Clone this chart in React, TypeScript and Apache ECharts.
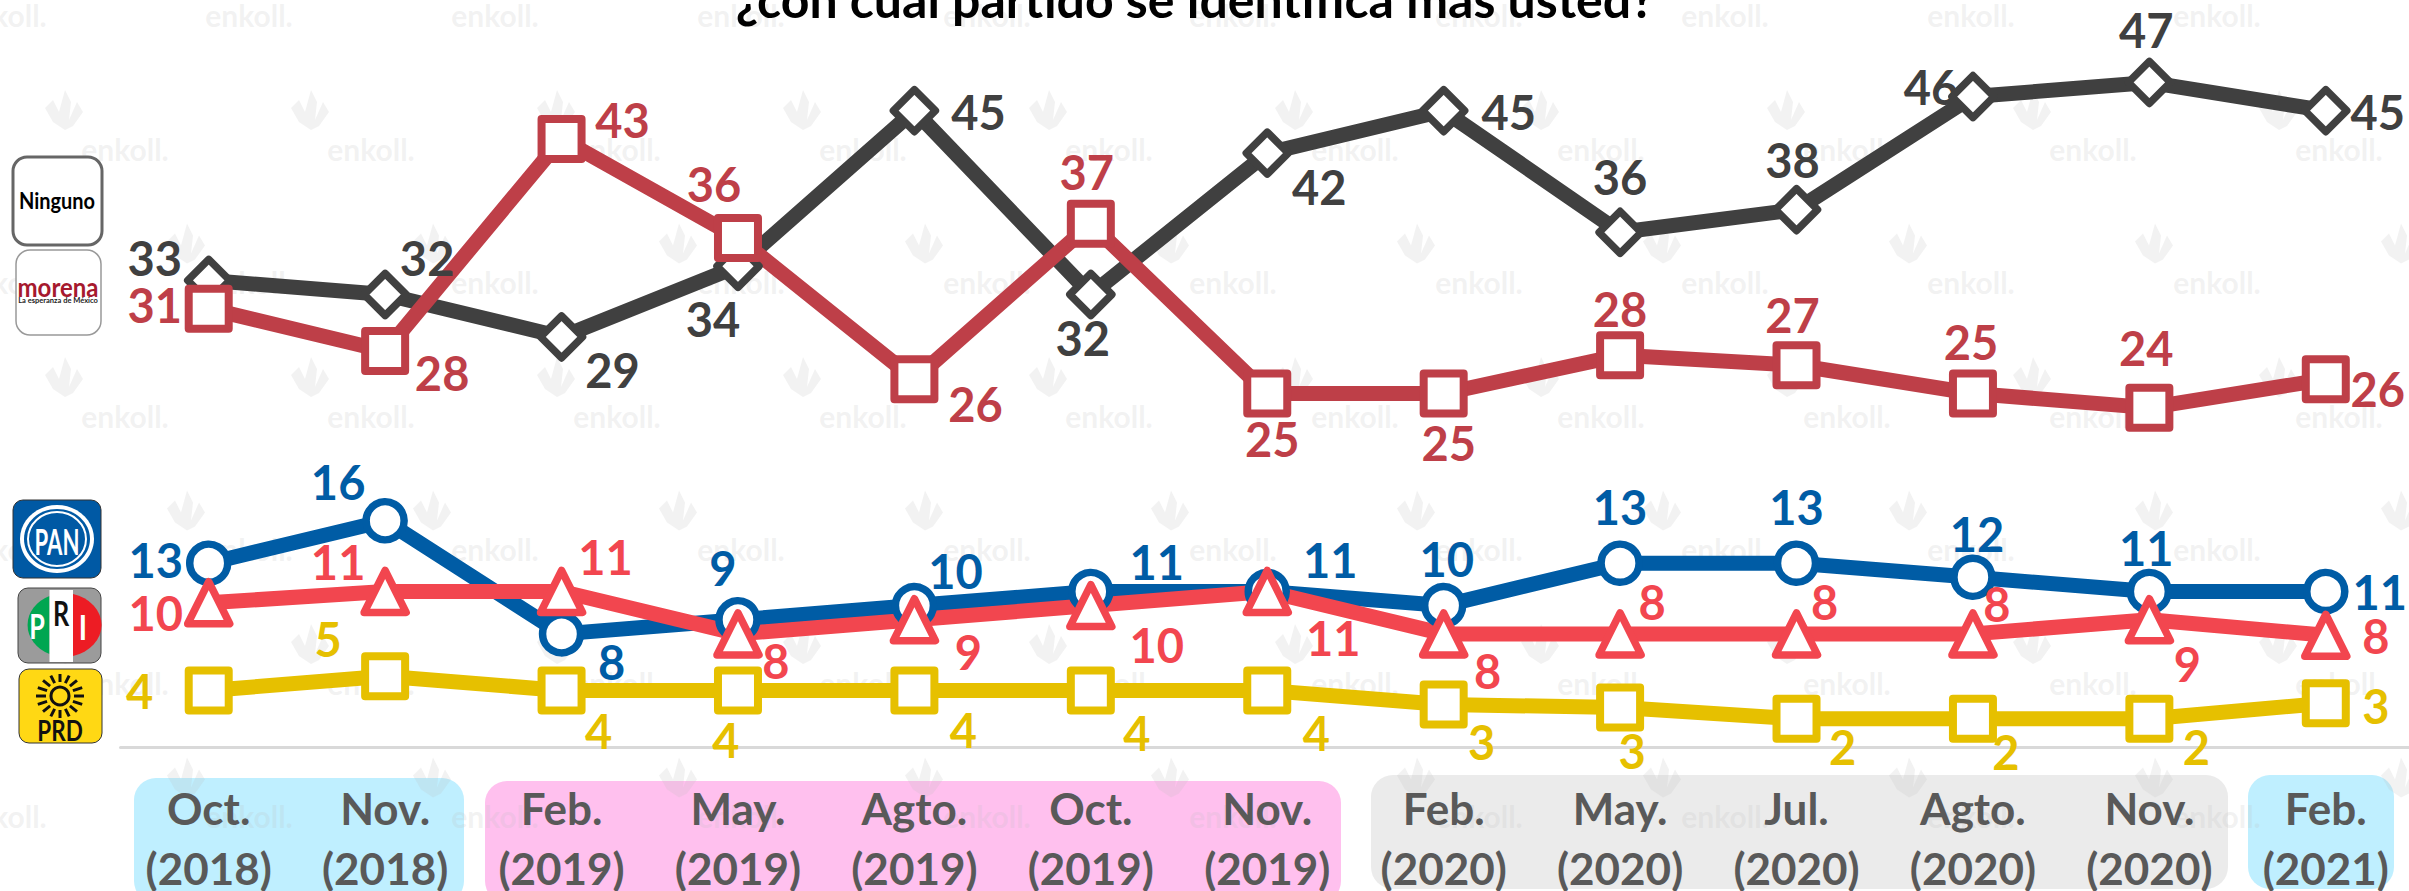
import React, { useEffect, useRef } from "react";
import * as echarts from "echarts";

const categories = ["Oct.\n(2018)","Nov.\n(2018)","Feb.\n(2019)","May.\n(2019)","Agto.\n(2019)","Oct.\n(2019)","Nov.\n(2019)","Feb.\n(2020)","May.\n(2020)","Jul.\n(2020)","Agto.\n(2020)","Nov.\n(2020)","Feb.\n(2021)"];
const ninguno = [33,32,29,34,45,32,42,45,36.4,38,46,47,45];
const morena = [31,28,43,36,26,37,25,25,27.7,27,25,24,26];
const pan = [13,16,8,9,10,11,11,10,13,13,12,11,11];
const pri = [10.2,11,11,8,9,10,11,8,8,8,8,9,7.9];
const prd = [4,5,4,4,4,4,4,3,2.8,2,2,2,3.1];

const ningunoOffsets = [[-54,-22],[42,-37],[51,33],[-25,53],[64,1],[-8,43],[52,34],[65,1],[0,-55],[-4,-50],[-42,-10],[-3,-52],[52,1]];
const morenaOffsets = [[-54,-4],[57,22],[61,-19],[-24,-54],[61,25],[-4,-52],[5,45],[5,49],[0,-46],[-4,-50],[-2,-52],[-3,-60],[52,10]];
const panOffsets = [[-53,-3],[-47,-39],[50,28],[-15,-52],[41,-35],[66,-29],[63,-31],[3,-47],[0,-56],[0,-56],[4,-43],[-3,-43],[54,1]];
const priOffsets = [[-53,10],[-47,-29],[44,-34],[38,27],[54,32],[66,39],[66,47],[44,37],[32,-32],[28,-32],[24,-30],[38,44],[50,1]];
const prdOffsets = [[-69,1],[-57,-37],[37,41],[-12,50],[49,40],[46,43],[49,43],[38,37],[12,44],[46,28],[33,33],[47,28],[50,3]];

const FONT = "Lato";

echarts.graphic.registerShape("priGreen", echarts.graphic.extendPath("M49.5 596 A38 32 0 0 0 49.5 654 Z", {}));
echarts.graphic.registerShape("priRed", echarts.graphic.extendPath("M73 594 A38 32 0 0 1 73 656 Z", {}));
echarts.graphic.registerShape("mark", echarts.graphic.extendPath("M0 18 L8 10 L14 22 L20 0 L26 12 L24 30 L32 12 L38 22 L28 36 L20 40 L8 32 Z", {}));

function watermark() {
  const out: any[] = [];
  const stepX = 246;
  const stepY = 133.5;
  for (let r = 0; r < 7; r++) {
    const stagger = r % 2 === 0 ? 0 : 122;
    const textY = 15 + r * stepY;
    for (let c = 0; c < 10; c++) {
      const tx = 3 + stagger + c * stepX;
      if (tx < 2440) out.push({ type: "text", z: -5, x: tx, y: textY, style: { text: "enkoll.", font: `bold 30px ${FONT}`, fill: "rgba(190,190,190,0.2)", align: "center", verticalAlign: "middle" } });
    }
    const markY = 90 + r * stepY;
    if (markY < 880) {
      for (let c = 0; c < 10; c++) {
        const mx = 45 + stagger + c * stepX;
        if (mx < 2420) out.push({ type: "mark", z: -5, x: mx, y: markY, style: { fill: "rgba(190,190,190,0.2)" } });
      }
    }
  }
  return out;
}

function bands() {
  const spans = [
    [134, 778, 330, 125, "#BFEFFF"],
    [485, 781, 856, 122, "#FFC0EE"],
    [1371, 775, 857, 114, "#EBEBEB"],
    [2248, 775, 146, 114, "#BFEFFF"],
  ];
  return spans.map(([x, y, width, height, fill]: any) => ({ type: "rect", z: -10, shape: { x, y, width, height, r: 22 }, style: { fill } }));
}

function logos() {
  const out: any[] = [];
  const txt = (text: string, x: number, y: number, size: number, fill: string, scaleX = 1, scaleY = 1) => ({ type: "text", z: 1, x, y, scaleX, scaleY, style: { text, font: `bold ${size}px ${FONT}`, fill, align: "center", verticalAlign: "middle" } });
  out.push({ type: "rect", z: 1, shape: { x: 13, y: 157, width: 89, height: 88, r: 14 }, style: { fill: "#fff", stroke: "#666", lineWidth: 3 } });
  out.push(txt("Ninguno", 57, 200, 21, "#000", 0.95, 1.1));
  out.push({ type: "rect", z: 1, shape: { x: 16, y: 250, width: 85, height: 85, r: 14 }, style: { fill: "#fff", stroke: "#999", lineWidth: 1.5 } });
  out.push(txt("morena", 58, 287, 24, "#A6192E", 1, 1.1));
  out.push(txt("La esperanza de México", 58, 300, 7.5, "#222"));
  out.push({ type: "rect", z: 1, shape: { x: 13, y: 500, width: 88, height: 78, r: 10 }, style: { fill: "#0059A4", stroke: "#333", lineWidth: 1 } });
  out.push({ type: "ellipse", z: 1, shape: { cx: 57, cy: 539, rx: 37, ry: 34 }, style: { fill: "#fff" } });
  out.push({ type: "ellipse", z: 1, shape: { cx: 57, cy: 539, rx: 33, ry: 30 }, style: { fill: "#0059A4" } });
  out.push({ type: "ellipse", z: 1, shape: { cx: 57, cy: 539, rx: 29, ry: 27 }, style: { fill: "none", stroke: "#fff", lineWidth: 2 } });
  out.push(txt("PAN", 57, 540, 26, "#fff", 0.85, 1.4));
  out.push({ type: "rect", z: 1, shape: { x: 18, y: 588, width: 83, height: 75, r: 10 }, style: { fill: "#9B9B9B", stroke: "#444", lineWidth: 1 } });
  out.push({ type: "priGreen", z: 1, style: { fill: "#00A651" } });
  out.push({ type: "priRed", z: 1, style: { fill: "#ED1C24" } });
  out.push({ type: "rect", z: 1, shape: { x: 49.5, y: 590, width: 23.5, height: 72 }, style: { fill: "#fff" } });
  out.push(txt("P", 37, 626, 28, "#fff", 0.9, 1.2));
  out.push(txt("R", 61, 613, 28, "#111", 0.9, 1.2));
  out.push(txt("I", 83, 627, 28, "#fff", 1, 1.2));
  out.push({ type: "rect", z: 1, shape: { x: 19, y: 669, width: 83, height: 74, r: 10 }, style: { fill: "#FFD814", stroke: "#333", lineWidth: 1 } });
  out.push({ type: "circle", z: 1, shape: { cx: 60, cy: 696, r: 9 }, style: { fill: "#FFD814", stroke: "#111", lineWidth: 3 } });
  for (let i = 0; i < 16; i++) {
    const a = (i / 16) * Math.PI * 2;
    out.push({ type: "line", z: 1, shape: { x1: 60 + Math.cos(a) * 14, y1: 696 + Math.sin(a) * 14, x2: 60 + Math.cos(a) * 24, y2: 696 + Math.sin(a) * 22 }, style: { stroke: "#111", lineWidth: 3 } });
  }
  out.push(txt("PRD", 60, 730, 25, "#111", 0.9, 1.15));
  return out;
}

function makeSeries(name: string, values: number[], offsets: number[][], color: string, symbol: string, symbolSize: number, borderWidth: number) {
  return {
    name,
    type: "line",
    symbol,
    symbolSize,
    showAllSymbol: true,
    lineStyle: { color, width: 15 },
    itemStyle: { color: "#fff", borderColor: color, borderWidth, borderJoin: "round" },
    emphasis: { disabled: true },
    data: values.map((value, i) => ({
      value,
      label: { show: true, position: "inside", offset: offsets[i], color, fontFamily: FONT, fontWeight: "bold", fontSize: 47, formatter: String(Math.round(value)) },
    })),
  };
}

export default function App() {
  const ref = useRef<HTMLDivElement>(null);
  useEffect(() => {
    const chart = echarts.init(ref.current!, null, { renderer: "svg" });
    chart.setOption({
      animation: false,
      backgroundColor: "#fff",
      grid: { left: 120.5, right: -5, top: 40, bottom: 144, containLabel: false, outerBoundsMode: "none" },
      xAxis: {
        type: "category",
        data: categories,
        axisTick: { show: false },
        axisLine: { lineStyle: { color: "#D9D9D9", width: 3 } },
        axisLabel: { color: "#595959", fontFamily: FONT, fontWeight: "bold", fontSize: 44, lineHeight: 60, margin: 31, interval: 0 },
      },
      yAxis: { type: "value", min: 0, max: 50, show: false, splitLine: { show: false } },
      graphic: [
        ...bands(),
        ...watermark(),
        { type: "text", z: 3, x: 1195, y: -1, style: { text: "¿con cuál partido se identifica más usted?", font: `bold 50px ${FONT}`, fill: "#000", align: "center", verticalAlign: "middle" } },
        ...logos(),
      ],
      series: [
        makeSeries("Ninguno", ninguno, ningunoOffsets, "#404040", "diamond", 42, 7.5),
        makeSeries("Morena", morena, morenaOffsets, "#BE3F48", "rect", 40, 8),
        makeSeries("PAN", pan, panOffsets, "#005CA5", "circle", 38, 7.5),
        makeSeries("PRI", pri, priOffsets, "#F2464F", "triangle", 42, 7.5),
        makeSeries("PRD", prd, prdOffsets, "#E6C000", "rect", 40, 8),
      ],
    });
    return () => chart.dispose();
  }, []);
  return <div ref={ref} style={{ position: "absolute", left: 0, top: 0, width: 2409, height: 891, overflow: "hidden" }} />;
}
